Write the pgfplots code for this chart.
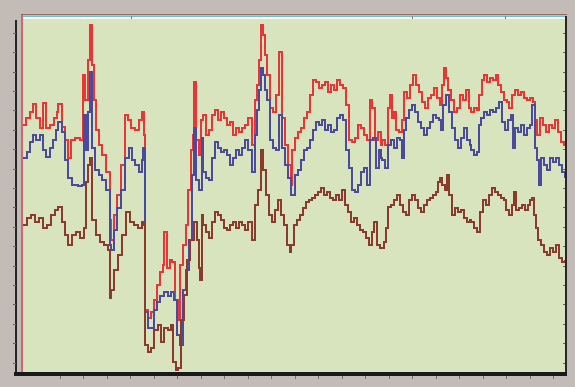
\documentclass[border=0pt]{standalone}
\usepackage{pgfplots}
\pgfplotsset{compat=1.18}
\usepackage{pgfplotstable}
\definecolor{bggray}{HTML}{C3BBB5}
\definecolor{plotgreen}{HTML}{D7E4BD}
\definecolor{sred}{HTML}{E83535}
\definecolor{sblue}{HTML}{4B4B9E}
\definecolor{sbrown}{HTML}{8B3B2B}
\definecolor{pinkline}{HTML}{D06575}
\definecolor{topbrown}{HTML}{9A6A60}
\definecolor{topcyan}{HTML}{6CC6C6}

\pgfplotstableread{
x y
23 125
26 118
30 112
33 104
36 118
40 128
43 103
46 128
50 125
54 118
57 112
58 104
62 127
65 140
68 158
71 140
75 138
80 140
83 75
85 100
88 60
90 25
92 65
94 100
96 130
99 145
102 155
106 172
110 220
111 240
114 215
117 195
121 165
125 115
128 120
131 128
135 130
139 120
142 112
144 135
145 310
148 318
151 312
154 300
157 285
160 272
163 265
164 232
167 268
170 260
172 262
175 300
178 320
180 265
183 245
186 225
188 190
191 150
193 135
194 82
196 140
199 155
201 120
203 115
206 135
209 130
212 115
215 110
218 120
221 112
224 118
227 125
230 122
233 135
236 128
239 132
242 128
245 125
248 118
252 145
255 100
257 85
259 60
261 25
263 35
265 55
267 75
270 108
273 112
276 95
279 52
282 118
285 145
288 165
291 185
292 150
295 138
298 132
301 128
304 118
307 112
310 95
313 80
316 82
319 88
322 85
325 82
328 92
331 85
334 90
337 80
340 85
343 88
346 105
349 140
352 142
355 138
358 125
361 128
364 135
367 140
370 100
372 108
375 140
378 132
381 145
382 140
385 145
388 108
390 95
392 118
394 112
396 130
399 132
402 120
404 92
407 98
410 85
413 75
416 85
419 92
422 102
425 108
428 98
431 95
434 88
437 98
440 105
442 85
444 68
446 78
448 90
451 100
454 112
457 108
460 95
463 100
466 90
469 108
471 112
474 108
477 110
479 95
482 80
484 75
487 82
490 78
493 80
496 75
498 85
501 92
504 100
507 102
509 108
512 95
515 90
518 95
521 92
524 98
527 100
530 98
533 102
535 120
537 135
540 118
543 125
546 132
549 125
552 128
555 120
558 132
561 142
564 145
565 145
}\redtable

\pgfplotstableread{
x y
23 158
27 152
30 142
33 135
36 140
40 135
43 150
46 157
50 148
53 140
56 130
58 122
62 132
65 160
68 178
72 185
78 186
82 185
84 115
86 150
88 112
90 72
92 148
95 170
99 175
102 180
106 190
110 245
111 250
114 230
117 208
121 190
125 158
129 148
132 160
135 165
139 172
142 160
143 148
145 312
148 328
151 328
154 310
157 302
160 296
164 292
168 296
171 292
174 300
177 335
180 345
183 290
186 270
189 240
192 175
194 128
196 180
199 190
202 138
203 172
206 178
209 180
212 158
215 142
218 148
221 152
224 150
227 155
230 165
233 158
236 150
239 155
242 148
245 140
248 150
252 172
255 135
257 110
259 90
261 68
263 75
265 90
267 100
270 140
273 148
276 150
279 115
282 148
285 165
288 178
291 195
292 195
295 175
298 170
301 160
304 150
307 148
310 140
313 130
316 122
319 125
322 120
325 130
328 125
331 132
334 130
337 118
340 115
343 120
346 150
349 168
352 190
355 192
358 185
361 172
364 168
367 185
370 140
373 138
376 168
379 150
381 158
382 160
385 168
388 145
391 140
394 148
397 138
400 140
402 158
404 130
406 118
409 110
412 105
415 112
418 122
421 128
424 135
427 128
430 122
433 115
436 118
439 120
441 130
443 105
446 95
449 112
452 128
455 140
458 148
461 138
464 128
467 140
470 145
471 150
474 155
477 152
479 125
481 118
484 112
487 115
490 110
493 112
496 108
499 102
502 122
505 130
508 120
511 115
513 148
515 128
518 132
521 125
524 135
527 128
530 125
532 105
535 148
537 160
539 185
541 158
544 165
547 170
550 158
553 162
556 158
559 165
562 172
565 178
}\bluetable

\pgfplotstableread{
x y
23 225
27 218
31 215
35 222
39 218
43 228
47 225
51 215
55 210
58 207
62 222
65 235
68 245
72 235
76 232
80 238
84 228
86 182
88 165
90 158
92 220
96 235
100 242
104 245
108 250
110 298
111 290
114 270
118 255
122 235
126 212
130 222
134 225
138 228
142 222
144 225
145 345
148 352
151 348
154 330
158 325
161 342
164 328
168 330
171 325
173 362
176 370
178 368
181 320
184 295
187 260
190 240
194 222
197 240
199 268
200 280
202 215
203 225
206 232
209 238
212 222
215 212
218 215
221 220
224 228
227 230
230 225
233 222
236 228
239 222
242 225
245 230
248 222
252 240
255 205
258 190
261 150
263 170
266 195
269 215
272 222
275 210
278 200
281 215
284 225
287 245
290 252
291 245
294 225
297 220
300 215
303 208
306 202
309 200
312 198
315 195
318 192
321 188
324 195
327 192
330 198
333 200
336 195
339 200
342 190
345 205
348 212
351 222
354 218
357 225
360 230
363 232
366 238
369 245
372 232
374 222
377 245
380 248
382 248
384 242
386 228
388 207
391 205
394 200
397 195
400 205
403 212
406 215
409 200
412 195
415 200
418 208
421 212
424 205
427 200
430 198
433 195
436 192
438 182
440 178
442 185
445 190
447 175
449 195
452 215
455 208
458 212
461 210
464 218
467 222
470 220
471 222
474 228
477 232
480 212
483 200
486 205
489 195
492 188
495 192
498 195
501 198
504 200
506 210
509 215
512 205
514 192
516 210
519 208
522 205
525 210
528 205
530 200
532 198
534 215
536 228
538 240
541 245
544 252
547 255
550 248
553 252
556 245
559 258
562 262
565 260
}\browntable

\begin{document}
\begin{tikzpicture}[x=1pt,y=1pt]
\fill[bggray] (0,0) rectangle (575,387);
\begin{axis}[
  at={(22pt,14pt)}, anchor=south west,
  scale only axis, width=543pt, height=357pt,
  xmin=22, xmax=565, ymin=16, ymax=373, y dir=reverse,
  axis line style={draw=none}, ticks=none,
  axis background/.style={fill=plotgreen},
  every axis plot/.append style={const plot, line width=1.1pt, line join=miter},
]
\addplot[sred] table[x=x,y=y] {\redtable};
\addplot[sblue] table[x=x,y=y] {\bluetable};
\addplot[sbrown] table[x=x,y=y] {\browntable};
\end{axis}
% frame decorations
\fill[white] (23,367.5) rectangle (565,370.3);
\draw[topcyan, line width=1pt] (22,370.8) -- (566,370.8);
\draw[topbrown, line width=1.2pt] (21,372.2) -- (567,372.2);
\foreach \t in {131,412,505} \draw[gray, line width=0.6pt] (\t,371) -- (\t,367.5);
\draw[pinkline, line width=1.5pt] (22,372) -- (22,14);
\draw[black!85, line width=1.3pt] (16,367) -- (16,12);
\foreach \k in {0,...,17} \draw[black!60, line width=0.7pt] (13,24+19.4*\k) -- (16,24+19.4*\k);
\foreach \k in {0,...,17} \draw[black!60, line width=0.7pt] (563,24+19.4*\k) -- (566,24+19.4*\k);
\draw[black!85, line width=1.6pt] (566,371) -- (566,11);
\fill[black!90] (14,11) rectangle (567,14.5);
\foreach \k in {0,...,21} \draw[black!55, line width=0.7pt] (60+23.5*\k,11) -- (60+23.5*\k,7.5);
\end{tikzpicture}
\end{document}
